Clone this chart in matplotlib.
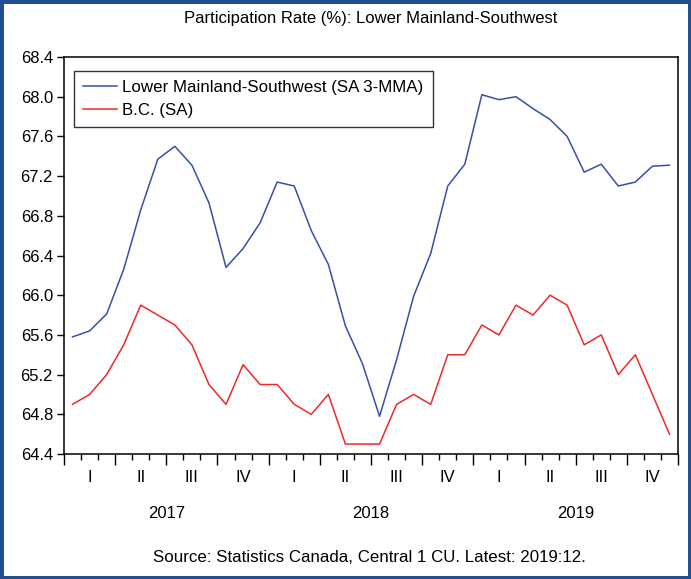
import numpy as np
import matplotlib.pyplot as plt
from matplotlib.patches import Rectangle

plt.rcParams['font.family'] = ['Liberation Sans', 'DejaVu Sans']

# monthly data, 2017:01 - 2019:12
lms = [65.58, 65.64, 65.81, 66.26, 66.86, 67.37, 67.50, 67.31, 66.93, 66.28, 66.47, 66.73,
       67.14, 67.10, 66.65, 66.31, 65.69, 65.31, 64.78, 65.35, 65.99, 66.42, 67.10, 67.32,
       68.02, 67.97, 68.00, 67.88, 67.77, 67.60, 67.24, 67.32, 67.10, 67.14, 67.30, 67.31]
bc = [64.9, 65.0, 65.2, 65.5, 65.9, 65.8, 65.7, 65.5, 65.1, 64.9, 65.3, 65.1,
      65.1, 64.9, 64.8, 65.0, 64.5, 64.5, 64.5, 64.9, 65.0, 64.9, 65.4, 65.4,
      65.7, 65.6, 65.9, 65.8, 66.0, 65.9, 65.5, 65.6, 65.2, 65.4, 65.0, 64.6]
quarters = ['I', 'II', 'III', 'IV']
years = ['2017', '2018', '2019']
yticks = [64.4, 64.8, 65.2, 65.6, 66.0, 66.4, 66.8, 67.2, 67.6, 68.0, 68.4]

fig = plt.figure(figsize=(6.91, 5.79), dpi=100)
ax = fig.add_axes([64/691, 1-454/579, 614/691, 397/579])

x = np.arange(len(lms))
ax.plot(x, lms, color='#3550A8', lw=1.1, label='Lower Mainland-Southwest (SA 3-MMA)')
ax.plot(x, bc, color='#F02828', lw=1.1, label='B.C. (SA)')

ax.set_xlim(-0.5, len(lms) - 0.5)
ax.set_ylim(64.4, 68.4)
ax.set_yticks(yticks)
ax.set_yticklabels(['%.1f' % v for v in yticks])
ax.set_xticks(np.arange(-0.5, len(lms), 3))
ax.set_xticks(np.arange(-0.5, len(lms), 1), minor=True)
ax.set_xticklabels([])
ax.tick_params(axis='x', which='major', length=8, width=1, direction='out')
ax.tick_params(axis='x', which='minor', length=4, width=1, direction='out')
ax.tick_params(axis='y', length=5, width=1, labelsize=12, pad=3)
for s in ax.spines.values():
    s.set_linewidth(1.1)

tr = ax.get_xaxis_transform()
for i in range(len(lms) // 3):
    ax.text(3*i + 1, -0.06, quarters[i % 4], transform=tr, ha='center', va='center', fontsize=12)
for j, yr in enumerate(years):
    ax.text(12*j + 5.5, -0.149, yr, transform=tr, ha='center', va='center', fontsize=12)

leg = ax.legend(loc='upper left', bbox_to_anchor=(0.016, 0.965), borderaxespad=0,
                fancybox=False, edgecolor='#333333', framealpha=1, fontsize=12.2,
                handlelength=2.0, handletextpad=0.3, borderpad=0.55, labelspacing=0.45)
leg.get_frame().set_linewidth(1.0)

fig.text(371/691, 1-19/579, 'Participation Rate (%): Lower Mainland-Southwest',
         ha='center', va='center', fontsize=12)
fig.text(369/691, 1-558/579, 'Source: Statistics Canada, Central 1 CU. Latest: 2019:12.',
         ha='center', va='center', fontsize=12.2)

fig.patches.append(Rectangle((0, 0), 1, 1, transform=fig.transFigure, fill=False,
                             edgecolor='#1F4F8F', lw=5))

fig.savefig('out.png', dpi=100)
